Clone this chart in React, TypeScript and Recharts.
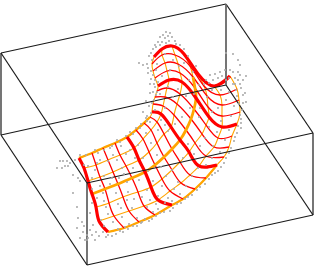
import React from 'react';
import { ComposedChart, Line, Scatter, XAxis, YAxis } from 'recharts';

type Pair = [number, number];

const boxCorners: Record<string, Pair> = {
  A: [1, 53],
  B: [226, 4],
  C: [313, 133],
  D: [87, 183],
  a: [1, 135],
  b: [226, 85],
  c: [313, 215],
  d: [87, 265],
};
const boxEdges: string[] = ['AB', 'BC', 'CD', 'DA', 'ab', 'bc', 'cd', 'da', 'Cc', 'Dd', 'Aa'];
const shadedEdges: string[] = ['Bb'];

// one row per red line, seven nodes along each; columns give the orange lines
const gridNodes: Pair[][] = [
  [[79, 158], [84, 168], [88, 181], [92, 194], [96, 207], [99, 221], [108, 232]],
  [[92, 153], [96, 165], [100, 177], [105, 189], [109, 203], [114, 216], [124, 228]],
  [[103, 148], [108, 160], [113, 172], [118, 184], [123, 197], [129, 211], [139, 222]],
  [[115, 143], [120, 155], [126, 166], [132, 178], [138, 192], [144, 206], [155, 215]],
  [[127, 137], [134, 148], [139, 160], [145, 172], [151, 187], [158, 200], [172, 205]],
  [[136, 130], [143, 139], [149, 152], [155, 165], [162, 179], [170, 191], [183, 199]],
  [[144, 123], [151, 130], [157, 143], [164, 157], [172, 170], [181, 183], [195, 189]],
  [[150, 117], [157, 122], [164, 134], [172, 149], [180, 162], [190, 175], [206, 178]],
  [[152, 112], [161, 114], [171, 127], [180, 140], [189, 152], [199, 166], [217, 165]],
  [[153, 104], [163, 106], [174, 115], [186, 130], [195, 143], [206, 156], [224, 157]],
  [[155, 97], [165, 97], [177, 104], [191, 119], [202, 134], [214, 147], [229, 147]],
  [[157, 91], [167, 88], [180, 94], [194, 109], [206, 125], [218, 138], [232, 136]],
  [[158, 86], [169, 80], [182, 82], [196, 98], [209, 117], [222, 127], [237, 124]],
  [[155, 78], [167, 71], [180, 73], [195, 88], [208, 107], [222, 116], [240, 112]],
  [[153, 71], [165, 63], [178, 64], [193, 77], [207, 96], [222, 105], [239, 100]],
  [[152, 64], [162, 55], [175, 55], [190, 66], [204, 86], [220, 95], [237, 89]],
  [[154, 57], [162, 49], [172, 46], [184, 54], [198, 74], [214, 86], [230, 76]],
];

const samplePoints: Pair[] = [
  [163, 35], [168, 36], [165, 38], [172, 37], [175, 41], [162, 42], [160, 45], [169, 41], [176, 44], [156, 47],
  [153, 49], [151, 53], [149, 56], [152, 60], [155, 45], [158, 42], [166, 43], [180, 45], [184, 49], [188, 56],
  [139, 63], [143, 65], [147, 64], [148, 68], [148, 73], [153, 75], [151, 79], [155, 80], [156, 70], [150, 93],
  [155, 87], [157, 92], [146, 101], [149, 106], [143, 112], [147, 116],
  [233, 54], [238, 60], [240, 65], [230, 70], [233, 72], [238, 72], [240, 75], [246, 76], [243, 80], [220, 72],
  [215, 74], [210, 75], [206, 80], [245, 93], [246, 102], [243, 103], [238, 80], [226, 53], [241, 123], [240, 115],
  [241, 128], [237, 133], [234, 141], [229, 153], [224, 163], [218, 171], [242, 110], [236, 90],
  [60, 161], [63, 161], [67, 161], [70, 163], [57, 168], [62, 168], [65, 166], [68, 166], [73, 175], [78, 178],
  [80, 181], [73, 193], [77, 207], [78, 218], [82, 222], [77, 228], [80, 238], [87, 235], [88, 238], [92, 235],
  [85, 240], [87, 240], [90, 213], [92, 203], [75, 160], [80, 155], [86, 155], [95, 150], [98, 153],
  [103, 232], [112, 236], [120, 231], [128, 229], [137, 226], [145, 219], [152, 219], [160, 213], [170, 211], [177, 204],
  [188, 197], [197, 190], [205, 184], [212, 175], [104, 226], [108, 235], [118, 229], [129, 224], [142, 222], [158, 209],
  [110, 148], [120, 142], [130, 132], [141, 124], [146, 118], [121, 146], [136, 128], [152, 103], [150, 122],
  [95, 170], [100, 186], [92, 178], [104, 201], [108, 214], [103, 193], [101, 220], [112, 178], [116, 193], [118, 204],
  [122, 217], [127, 182], [128, 192], [132, 208], [137, 218], [108, 161], [113, 155], [122, 168], [126, 154], [133, 168],
  [139, 180], [142, 197], [147, 207], [153, 212], [138, 145], [143, 158], [148, 171], [153, 181], [158, 196], [162, 186],
  [168, 198], [174, 189], [180, 194], [146, 133], [151, 143], [157, 155], [161, 167], [166, 176], [172, 170], [178, 182],
  [186, 186], [192, 176], [198, 168], [206, 165], [212, 158], [183, 158], [188, 144], [194, 154], [200, 146], [205, 138],
  [213, 146], [220, 152], [225, 140], [229, 130], [217, 132], [209, 127], [199, 117], [190, 108], [182, 117], [175, 124],
  [168, 131], [161, 120], [155, 110], [165, 108], [173, 97], [178, 89], [168, 87], [160, 94], [186, 96], [194, 94],
  [200, 108], [212, 112], [221, 121], [231, 116], [234, 106], [226, 100], [218, 108], [207, 97], [199, 85], [189, 80],
  [179, 66], [170, 70], [162, 76], [157, 64], [165, 54], [173, 60], [184, 63], [193, 72], [204, 84], [212, 90],
  [221, 90], [229, 92], [233, 84], [226, 80], [218, 78], [165, 125], [158, 130], [130, 150], [117, 160], [100, 160],
  [125, 227], [133, 226], [141, 223], [149, 221], [156, 216], [164, 212], [173, 208], [181, 203], [185, 199], [192, 195],
  [200, 187], [209, 179], [215, 173], [221, 167], [226, 158], [231, 148], [235, 137], [238, 126], [241, 119], [239, 104],
  [96, 232], [99, 236], [93, 225], [90, 230], [83, 232], [84, 226], [95, 240], [106, 237], [116, 234], [123, 232],
  [104, 150], [112, 146], [117, 140], [126, 136], [133, 134], [140, 128], [147, 121], [151, 113], [154, 100], [156, 95],
  [153, 92], [150, 84], [151, 71], [154, 84], [158, 82], [160, 37], [170, 33], [166, 32], [229, 78], [235, 78],
  [235, 84], [241, 88], [237, 96], [243, 95], [240, 84], [225, 70], [222, 76], [213, 80], [209, 83], [196, 66],
  [147, 190], [150, 200], [156, 204], [165, 203], [172, 201], [134, 199], [127, 200], [121, 208], [113, 222], [106, 207],
  [97, 198], [92, 189], [88, 166], [84, 165], [97, 163], [104, 176], [110, 184], [119, 178], [124, 174], [135, 158],
];

const redLines: Pair[][] = gridNodes;
const orangeLines: Pair[][] = gridNodes[0].map((_, j) => gridNodes.map((row) => row[j]));

const toPoints = (line: Pair[]) => line.map(([x, y]) => ({ x, y }));
const edgePoints = (edge: string) => [boxCorners[edge[0]], boxCorners[edge[1]]].map(([x, y]) => ({ x, y }));
const dots = toPoints(samplePoints);

const Dot = (props: any) => <circle cx={props.cx} cy={props.cy} r={1.05} fill="#aaaaaa" />;

const drawLine = (key: string, data: { x: number; y: number }[], stroke: string, width: number, type: 'natural' | 'linear') => (
  <Line
    key={key}
    data={data}
    dataKey="y"
    type={type}
    stroke={stroke}
    strokeWidth={width}
    dot={false}
    activeDot={false}
    isAnimationActive={false}
  />
);

export default function App() {
  return (
    <div style={{ position: 'absolute', left: 0, top: 0, width: 316, height: 266 }}>
      <ComposedChart width={316} height={266} margin={{ top: 0, right: 0, bottom: 0, left: 0 }}>
        <XAxis type="number" dataKey="x" domain={[0, 316]} hide />
        <YAxis type="number" dataKey="y" domain={[0, 266]} reversed hide />
        {orangeLines.map((line, j) =>
          drawLine(`orange-${j}`, toPoints(line), '#ffa500', 1.1, 'natural')
        )}
        {drawLine('rim-top', toPoints(orangeLines[0].slice(0, 8)), '#ffa500', 2.4, 'natural')}
        {drawLine('rim-bottom', toPoints(orangeLines[6].slice(0, 9)), '#ffa500', 2.2, 'natural')}
        <Scatter data={dots} shape={<Dot />} isAnimationActive={false} />
        {redLines.map((line, i) =>
          i % 4 === 0 ? null : drawLine(`red-${i}`, toPoints(line), '#ff0000', 1.3, 'natural')
        )}
        {drawLine('orange-mid', toPoints(orangeLines[3].slice(0, 15)), '#ffa500', 2.8, 'natural')}
        {redLines.map((line, i) =>
          i % 4 === 0 ? drawLine(`red-thick-${i}`, toPoints(line), '#ff0000', 3.2, 'natural') : null
        )}
        {boxEdges.map((edge) => drawLine(edge, edgePoints(edge), '#1a1a1a', 1.2, 'linear'))}
        {shadedEdges.map((edge) => drawLine(edge, edgePoints(edge), '#666666', 1.8, 'linear'))}
      </ComposedChart>
    </div>
  );
}
